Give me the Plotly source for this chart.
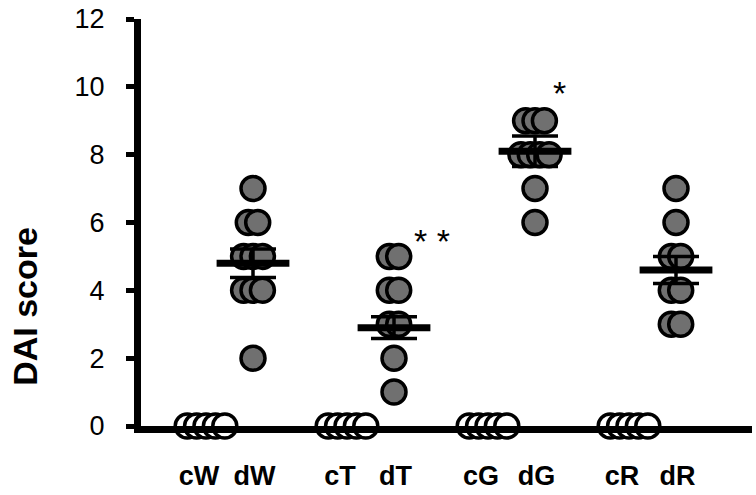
import plotly.graph_objects as go

# ---- data ----
group_labels = ["cW", "dW", "cT", "dT", "cG", "dG", "cR", "dR"]
group_positions = [1, 2, 4, 5, 7, 8, 10, 11]

cW = [0, 0, 0, 0, 0]
dW = [7, 6, 6, 5, 5, 5, 4, 4, 4, 2]
cT = [0, 0, 0, 0, 0]
dT = [5, 5, 4, 4, 3, 3, 2, 1]
cG = [0, 0, 0, 0, 0]
dG = [9, 9, 9, 8, 8, 8, 8, 7, 6]
cR = [0, 0, 0, 0, 0]
dR = [7, 6, 5, 5, 4, 4, 3, 3]

# mean and SEM of the disease groups as drawn
disease_labels = ["dW", "dT", "dG", "dR"]
disease_means = [4.8, 2.9, 8.1, 4.6]
disease_sems = [0.42, 0.32, 0.45, 0.40]

sig_labels = ["* *", "*"]
sig_groups = ["dT", "dG"]
sig_heights = [5.45, 9.83]

y_ticks = [0, 2, 4, 6, 8, 10, 12]

# ---- helpers ----
pos = dict(zip(group_labels, group_positions))
SPREAD = 0.2
FONT = "Liberation Sans, Arial, Helvetica"


def swarm(label, values):
    """Spread points with equal values side by side around the group position."""
    xs, ys = [], []
    counts = {}
    for v in values:
        counts[v] = counts.get(v, 0) + 1
    seen = {}
    for v in values:
        k = seen.get(v, 0)
        seen[v] = k + 1
        n = counts[v]
        xs.append(pos[label] + (k - (n - 1) / 2) * SPREAD)
        ys.append(v)
    return xs, ys


fig = go.Figure()

controls = {"cW": cW, "cT": cT, "cG": cG, "cR": cR}
diseases = {"dW": dW, "dT": dT, "dG": dG, "dR": dR}

for lab, vals in controls.items():
    xs, ys = swarm(lab, vals)
    fig.add_trace(go.Scatter(
        x=xs, y=ys, mode="markers", cliponaxis=False, showlegend=False,
        marker=dict(size=24, color="white", line=dict(color="black", width=3.5)),
    ))

for lab, vals in diseases.items():
    xs, ys = swarm(lab, vals)
    fig.add_trace(go.Scatter(
        x=xs, y=ys, mode="markers", cliponaxis=False, showlegend=False,
        marker=dict(size=24, color="#707070", line=dict(color="black", width=3.5)),
    ))

# mean +/- SEM
fig.add_trace(go.Scatter(
    x=[pos[l] for l in disease_labels], y=disease_means, mode="markers",
    cliponaxis=False, showlegend=False,
    error_y=dict(type="data", array=disease_sems, color="black", thickness=3.5, width=23),
    marker=dict(symbol="line-ew", size=52, color="black", line=dict(color="black", width=7)),
))

sig_dx = [0.81, 0.53]
for lab, g, h, dx in zip(sig_labels, sig_groups, sig_heights, sig_dx):
    fig.add_annotation(
        x=pos[g] + dx, y=h, text=lab, showarrow=False,
        font=dict(family=FONT, size=34, color="black"),
        xanchor="center", yanchor="middle",
    )

fig.add_annotation(
    xref="paper", yref="paper", x=-0.19, y=0.295, text="<b>DAI score</b>",
    textangle=-90, showarrow=False, xanchor="center", yanchor="middle",
    font=dict(family=FONT, size=34, color="black"),
)

# tick labels sit slightly left of control clusters, as in the figure
label_dx = [-0.15 if t.startswith("c") else 0.03 for t in group_labels]
fig.update_xaxes(
    range=[-0.383, 12.617],
    tickvals=[p + d for p, d in zip(group_positions, label_dx)],
    ticktext=["<b>%s</b>" % t for t in group_labels],
    showline=True, linecolor="black", linewidth=7, ticks="",
    showgrid=False, zeroline=False, ticklabelstandoff=20,
    tickfont=dict(family=FONT, size=27, color="black"),
)
fig.update_yaxes(
    range=[0, 12], tickvals=y_ticks,
    showline=True, linecolor="black", linewidth=7,
    ticks="outside", ticklen=8, tickwidth=5, tickcolor="black",
    showgrid=False, zeroline=False, ticklabelstandoff=16,
    tickfont=dict(family=FONT, size=27, color="black"),
)

fig.update_layout(
    width=756, height=495,
    margin=dict(l=141, r=4, t=15, b=63),
    plot_bgcolor="white", paper_bgcolor="white",
)

fig.write_html(
    "out.html",
    config={"displayModeBar": False},
    post_script="document.body.style.margin='0';document.body.style.overflow='hidden';",
)
